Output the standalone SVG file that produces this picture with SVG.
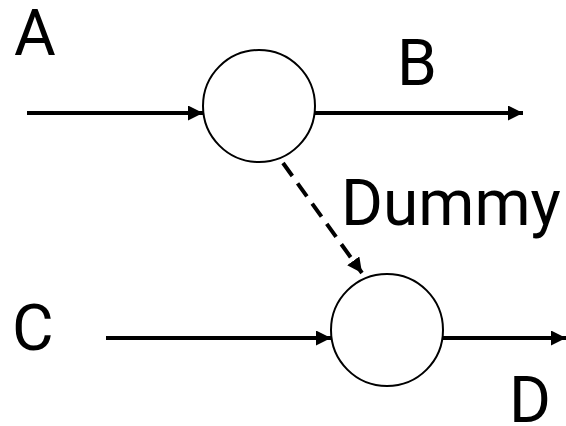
<svg xmlns="http://www.w3.org/2000/svg" width="566" height="426" viewBox="0 0 566 426">
<style>
.node{fill:#fff;stroke:#000;stroke-width:2}
.edge{stroke:#000;stroke-width:4;fill:none}
.dash{stroke:#000;stroke-width:4;fill:none;stroke-dasharray:16 9}
.lbl{font-family:Roboto,"Liberation Sans",sans-serif;font-size:64px;fill:#000}
</style>
<defs>
<marker id="ah" markerUnits="userSpaceOnUse" markerWidth="15" markerHeight="15" refX="15" refY="7.5" orient="auto">
<path d="M0,0 L15,7.5 L0,15 z" fill="#000"/>
</marker>
</defs>
<rect width="566" height="426" fill="#fff"/>
<g id="connectors">
<line class="edge" x1="27" y1="113" x2="203" y2="113" marker-end="url(#ah)"/>
<line class="edge" x1="315" y1="113" x2="523" y2="113" marker-end="url(#ah)"/>
<line class="edge" x1="106" y1="338" x2="331" y2="338" marker-end="url(#ah)"/>
<line class="edge" x1="443" y1="338" x2="566" y2="338" marker-end="url(#ah)"/>
<line class="dash" x1="283" y1="163" x2="362" y2="273" marker-end="url(#ah)"/>
</g>
<g id="node1"><circle class="node" cx="259" cy="106" r="56"/></g>
<g id="node2"><circle class="node" cx="387" cy="330" r="56"/></g>
<g id="labels">
<text class="lbl" x="14" y="55">A</text>
<text class="lbl" x="397" y="85">B</text>
<text class="lbl" x="12" y="350">C</text>
<text class="lbl" x="509" y="422">D</text>
<text class="lbl" x="341" y="225">Dummy</text>
</g>
</svg>
